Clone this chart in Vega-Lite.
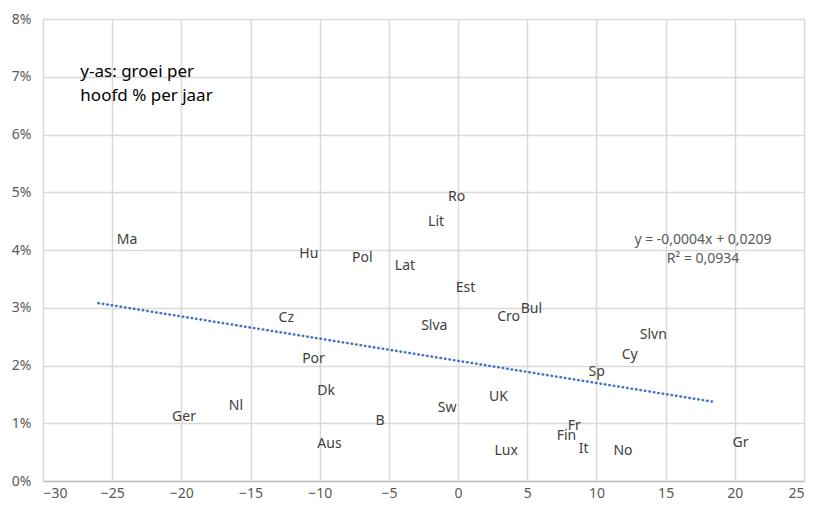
{
  "$schema": "https://vega.github.io/schema/vega-lite/v6.json",
  "width": 761,
  "height": 462,
  "autosize": "none",
  "padding": {"left": 43, "top": 19, "right": 11, "bottom": 30},
  "background": "white",
  "config": {
    "view": {"stroke": null},
    "font": "Noto Sans",
    "axis": {"labelFont": "Noto Sans", "labelColor": "#595959", "labelFontSize": 14, "gridColor": "#d9d9d9", "gridWidth": 1.5, "ticks": false, "title": null}
  },
  "datasets": {
    "countries": [
      {"land": "Ma", "x": -25.9, "y": 0.0417},
      {"land": "Hu", "x": -12.7, "y": 0.0393},
      {"land": "Pol", "x": -8.9, "y": 0.0386},
      {"land": "Lat", "x": -5.8, "y": 0.0372},
      {"land": "Lit", "x": -3.4, "y": 0.0448},
      {"land": "Ro", "x": -1.95, "y": 0.0491},
      {"land": "Est", "x": -1.4, "y": 0.0334},
      {"land": "Cro", "x": 1.6, "y": 0.0284},
      {"land": "Bul", "x": 3.3, "y": 0.0298},
      {"land": "Slva", "x": -3.9, "y": 0.0268},
      {"land": "Cz", "x": -14.2, "y": 0.0282},
      {"land": "Por", "x": -12.5, "y": 0.0211},
      {"land": "Dk", "x": -11.4, "y": 0.0156},
      {"land": "Nl", "x": -17.8, "y": 0.0130},
      {"land": "Ger", "x": -21.9, "y": 0.0111},
      {"land": "B", "x": -7.2, "y": 0.0104},
      {"land": "Aus", "x": -11.4, "y": 0.0064},
      {"land": "Sw", "x": -2.7, "y": 0.0126},
      {"land": "UK", "x": 1.0, "y": 0.0145},
      {"land": "Lux", "x": 1.4, "y": 0.0052},
      {"land": "Fr", "x": 6.7, "y": 0.0095},
      {"land": "Fin", "x": 5.9, "y": 0.0078},
      {"land": "It", "x": 7.5, "y": 0.0055},
      {"land": "No", "x": 10.0, "y": 0.0052},
      {"land": "Gr", "x": 18.6, "y": 0.0066},
      {"land": "Sp", "x": 8.2, "y": 0.0189},
      {"land": "Cy", "x": 10.6, "y": 0.0218},
      {"land": "Slvn", "x": 11.9, "y": 0.0253}
    ],
    "trend": [
      {"x": -26, "y": 0.0308},
      {"x": 18.5, "y": 0.0137}
    ],
    "notes": [
      {"label": ["y-as: groei per", "hoofd % per jaar"], "x": -27.3, "y": 0.0708},
      {"label": ["y = -0,0004x + 0,0209", "R² = 0,0934"], "x": 17.7, "y": 0.0417}
    ]
  },
  "layer": [
    {
      "data": {"name": "trend"},
      "mark": {"type": "line", "color": "#4472C4", "strokeWidth": 2.5, "strokeDash": [0.5, 4], "strokeCap": "round"},
      "encoding": {
        "x": {"field": "x", "type": "quantitative", "scale": {"domain": [-30, 25], "nice": false, "zero": false},
          "axis": {"values": [-30, -25, -20, -15, -10, -5, 0, 5, 10, 15, 20, 25], "labelPadding": 5, "domainColor": "#bfbfbf", "domainWidth": 1.5}},
        "y": {"field": "y", "type": "quantitative", "scale": {"domain": [0, 0.08], "nice": false},
          "axis": {"values": [0, 0.01, 0.02, 0.03, 0.04, 0.05, 0.06, 0.07, 0.08], "format": ".0%", "labelPadding": 12, "domain": false}}
      }
    },
    {
      "data": {"name": "countries"},
      "mark": {"type": "text", "align": "left", "baseline": "middle", "dx": 17, "fontSize": 14, "color": "#404040"},
      "encoding": {
        "x": {"field": "x", "type": "quantitative"},
        "y": {"field": "y", "type": "quantitative"},
        "text": {"field": "land"}
      }
    },
    {
      "data": {"name": "notes"},
      "transform": [{"filter": "datum.x < 0"}],
      "mark": {"type": "text", "align": "left", "baseline": "middle", "fontSize": 17, "lineHeight": 24, "color": "#000000"},
      "encoding": {
        "x": {"field": "x", "type": "quantitative"},
        "y": {"field": "y", "type": "quantitative"},
        "text": {"field": "label"}
      }
    },
    {
      "data": {"name": "notes"},
      "transform": [{"filter": "datum.x > 0"}],
      "mark": {"type": "text", "align": "center", "baseline": "middle", "fontSize": 14, "lineHeight": 19, "color": "#595959"},
      "encoding": {
        "x": {"field": "x", "type": "quantitative"},
        "y": {"field": "y", "type": "quantitative"},
        "text": {"field": "label"}
      }
    }
  ]
}
